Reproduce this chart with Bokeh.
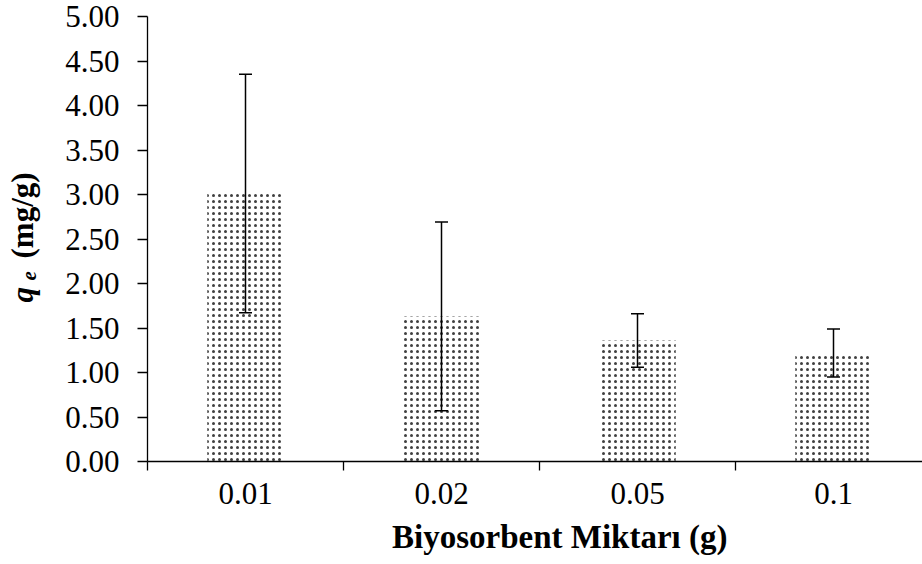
import math
from bokeh.plotting import figure
from bokeh.layouts import row, column
from bokeh.models import (ColumnDataSource, Range1d, FixedTicker, Whisker, TeeHead,
                          NumeralTickFormatter)
from bokeh.core.properties import value
from bokeh.embed import file_html
from bokeh.resources import INLINE

categories = ["0.01", "0.02", "0.05", "0.1"]
qe = [3.01, 1.63, 1.36, 1.22]
err = [1.34, 1.06, 0.30, 0.27]
y_ticks = [0, 0.5, 1, 1.5, 2, 2.5, 3, 3.5, 4, 4.5, 5]

xpos = [i + 0.5 for i in range(len(categories))]
src = ColumnDataSource(dict(
    x=xpos, top=qe,
    upper=[v + e for v, e in zip(qe, err)],
    lower=[v - e for v, e in zip(qe, err)],
))

FONT = "Liberation Serif"
FS = "31px"
LEFT_W = 60
MAIN_H = 518
BOT_H = 564 - MAIN_H


def strip(w, h):
    f = figure(width=w, height=h, output_backend="svg", toolbar_location=None,
               x_range=Range1d(0, w), y_range=Range1d(0, h),
               x_axis_location=None, y_axis_location=None,
               min_border_left=0, min_border_right=0, min_border_top=0,
               min_border_bottom=0)
    f.outline_line_color = None
    f.grid.visible = False
    return f


# ---- narrow strip holding the y-axis title ----
left = strip(LEFT_W, 564)
left.text(x=[22], y=[262], text=["q"], angle=math.pi / 2,
          text_font=value(FONT), text_font_style="bold italic",
          text_font_size=FS, text_color="black",
          text_baseline="alphabetic", text_align="left")
left.text(x=[28], y=[284], text=["e"], angle=math.pi / 2,
          text_font=value(FONT), text_font_style="bold italic",
          text_font_size="21px", text_color="black",
          text_baseline="alphabetic", text_align="left")
left.text(x=[22], y=[306], text=["(mg/g)"], angle=math.pi / 2,
          text_font=value(FONT), text_font_style="bold",
          text_font_size=FS, text_color="black",
          text_baseline="alphabetic", text_align="left")

# ---- strip holding the x-axis title ----
bottom = strip(922 - LEFT_W, BOT_H)
bottom.text(x=[272], y=[28], text=["Biyosorbent Miktarı (g)"],
            text_font=value(FONT), text_font_style="bold",
            text_font_size="33px", text_color="black",
            text_baseline="alphabetic", text_align="left")

# ---- main chart ----
p = figure(width=922 - LEFT_W, height=MAIN_H, output_backend="svg",
           toolbar_location=None,
           x_range=Range1d(0, (922 - 147) / 196.0), y_range=Range1d(0, 5),
           min_border_left=147 - LEFT_W, min_border_right=0, min_border_top=16,
           min_border_bottom=MAIN_H - 461)
p.outline_line_color = None
p.grid.grid_line_color = None
p.background_fill_color = "white"

p.vbar(x="x", top="top", width=0.39, source=src, fill_color="white",
       line_color=None, hatch_pattern="dot", hatch_color="black",
       hatch_scale=6, hatch_weight=1, hatch_alpha=0.75)

w = Whisker(source=src, base="x", upper="upper", lower="lower",
            line_color="black", line_width=1.5, level="annotation",
            upper_head=TeeHead(size=13, line_color="black", line_width=1.5),
            lower_head=TeeHead(size=13, line_color="black", line_width=1.5))
p.add_layout(w)

# x axis
xa = p.xaxis[0]
xa.ticker = FixedTicker(ticks=xpos, minor_ticks=list(range(len(categories) + 1)))
xa.major_label_overrides = {x: c for x, c in zip(xpos, categories)}
xa.major_tick_out = 0
xa.major_tick_in = 0
xa.minor_tick_out = 9
xa.minor_tick_in = 0
xa.minor_tick_line_color = "black"
xa.axis_line_color = "black"
xa.axis_line_width = 1.3
xa.minor_tick_line_width = 1.3
xa.major_label_text_font = FONT
xa.major_label_text_font_size = FS
xa.major_label_text_color = "black"
xa.major_label_standoff = 12
xa.axis_label_standoff = 0

# y axis
ya = p.yaxis[0]
ya.ticker = FixedTicker(ticks=y_ticks, minor_ticks=[])
ya.formatter = NumeralTickFormatter(format="0.00")
ya.major_tick_out = 10
ya.major_tick_in = 0
ya.major_tick_line_width = 1.3
ya.axis_line_width = 1.3
ya.axis_line_color = "black"
ya.major_label_text_font = FONT
ya.major_label_text_font_size = FS
ya.major_label_text_color = "black"
ya.major_label_standoff = 18

layout = row(left, column(p, bottom, spacing=0), spacing=0)
open("out.html", "w").write(file_html(layout, INLINE))
